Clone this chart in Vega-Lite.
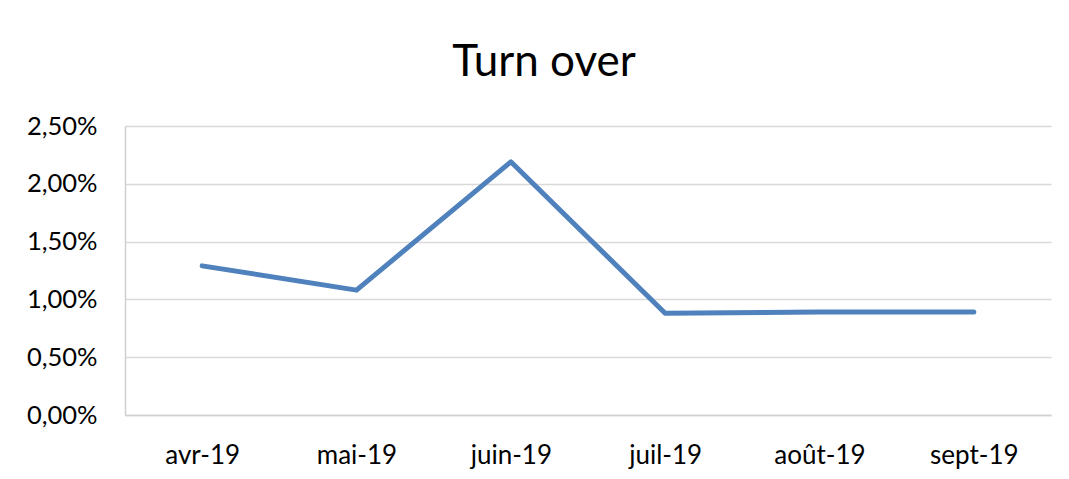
{
  "$schema": "https://vega.github.io/schema/vega-lite/v6.json",
  "autosize": "none",
  "width": 926,
  "height": 289,
  "padding": {"left": 125, "top": 126, "right": 18, "bottom": 64},
  "background": "white",
  "title": {
    "text": "Turn over",
    "font": "Lato",
    "fontSize": 44,
    "fontWeight": "normal",
    "color": "#000000",
    "anchor": "middle",
    "dx": -44,
    "offset": 29
  },
  "data": {
    "values": [
      {"mois": "avr-19", "turnover": 0.0129},
      {"mois": "mai-19", "turnover": 0.0108},
      {"mois": "juin-19", "turnover": 0.0219},
      {"mois": "juil-19", "turnover": 0.0088},
      {"mois": "août-19", "turnover": 0.0089},
      {"mois": "sept-19", "turnover": 0.0089}
    ]
  },
  "mark": {"type": "line", "color": "#4F81BD", "strokeWidth": 5, "strokeCap": "round", "strokeJoin": "round"},
  "encoding": {
    "x": {
      "field": "mois",
      "type": "nominal",
      "sort": null,
      "scale": {"type": "point", "padding": 0.5},
      "axis": {
        "title": null,
        "labelAngle": 0,
        "labelFont": "Lato",
        "labelFontSize": 26,
        "labelColor": "#000000",
        "labelPadding": 27,
        "ticks": false,
        "domainColor": "#d0d0d0",
        "domainWidth": 1.5,
        "grid": false
      }
    },
    "y": {
      "field": "turnover",
      "type": "quantitative",
      "scale": {"domain": [0, 0.025]},
      "axis": {
        "title": null,
        "values": [0, 0.005, 0.01, 0.015, 0.02, 0.025],
        "labelExpr": "replace(format(datum.value, '.2%'), '.', ',')",
        "labelFont": "Lato",
        "labelFontSize": 25.5,
        "labelColor": "#000000",
        "labelPadding": 28,
        "ticks": false,
        "domainColor": "#d0d0d0",
        "domainWidth": 1.5,
        "gridColor": "#d9d9d9",
        "gridWidth": 1.5
      }
    }
  },
  "config": {"view": {"stroke": null}}
}
